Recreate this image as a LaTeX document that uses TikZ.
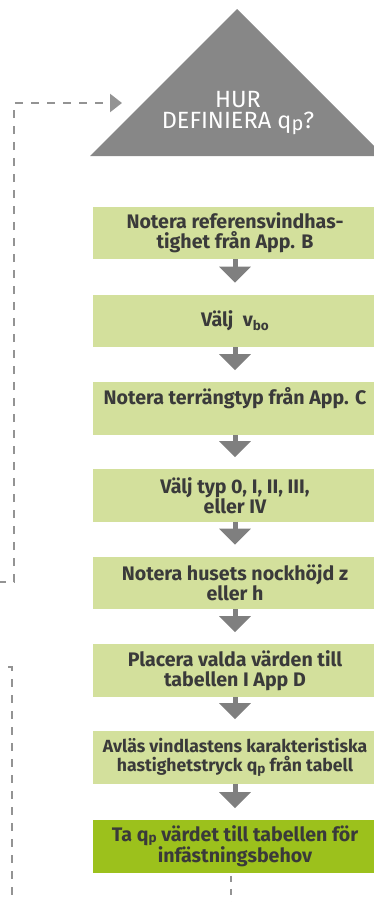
\documentclass[tikz,border=0pt]{standalone}
\usepackage{fontspec}
\setmainfont{Fira Sans}
\usetikzlibrary{arrows.meta}
\definecolor{lgreen}{HTML}{D3E09C}
\definecolor{dgreen}{HTML}{9CC11C}
\definecolor{trigray}{HTML}{878787}
\definecolor{arrgray}{HTML}{7F7F7F}
\definecolor{dashgray}{HTML}{939393}
\definecolor{txt}{HTML}{3A3A3A}
\newcommand{\subx}[2][-3.5pt]{\raisebox{#1}{\fontsize{13.5}{13.5}\selectfont #2}}
\begin{document}
\begin{tikzpicture}[x=1pt,y=-1pt,
 box/.style={fill=lgreen, minimum width=284pt, minimum height=52.5pt, inner sep=0pt, align=center, text=txt, font=\bfseries\fontsize{19.6}{19.6}\selectfont},
 smallbox/.style={box, font=\bfseries\fontsize{17.6}{18.6}\selectfont},
 finalbox/.style={box, fill=dgreen},
 flow/.style={draw=arrgray, line width=5pt, shorten >=12pt, -{Triangle[length=16pt,width=31pt]}},
 loop/.style={draw=dashgray, line width=2.5pt, dash pattern=on 8pt off 8pt}
]
\useasboundingbox (0,0) rectangle (374,902);
\clip (0,0) rectangle (374,902);
% decision triangle
\fill[trigray] (237,9) -- (384,156) -- (90,156) -- cycle;
\node[text=white, align=center, inner sep=0pt, font=\fontsize{23.5}{21.5}\selectfont] (q) at (238,113)
  {HUR\\DEFINIERA q\raisebox{-1.5pt}{\fontsize{20}{20}\selectfont p}?};
% boxes
\node[box] (b1) at (235,233) {Notera referensvindhas-\\tighet från App. B};
\node[box] (b2) at (235,321) {Välj\ \ v\subx{bo}};
\node[box] (b3) at (235,408.5) {Notera terrängtyp från App. C\\\strut};
\node[box] (b4) at (235,495.5) {Välj typ 0, I, II, III,\\eller IV};
\node[box] (b5) at (235,583) {Notera husets nockhöjd z\\eller h};
\node[box] (b6) at (235,670.5) {Placera valda värden till\\tabellen I App D};
\node[smallbox] (b7) at (235,757.5) {Avläs vindlastens karakteristiska\\hastighetstryck q\subx[-2.5pt]{p} från tabell};
\node[finalbox] (b8) at (235,846.5) {Ta q\subx[-1pt]{p} värdet till tabellen för\\infästningsbehov};
% flow arrows
\foreach \a/\b in {b1/b2,b2/b3,b3/b4,b4/b5,b5/b6,b6/b7,b7/b8}
  \draw[flow] (\a.south) -- (\b.north);
% dashed loop lines
\coordinate (la0) at (-2,582);
\coordinate (la1) at (14,582);
\coordinate (la2) at (14,103);
\coordinate (latip) at (122,103);
\draw[loop, -{Triangle[length=12pt,width=18pt]}] (la0) -- (la1) -- (la2) -- (latip);
\coordinate (lb0) at (8,667);
\coordinate (lb1) at (12,667);
\coordinate (lb2) at (12,910);
\draw[loop] (lb0) -- (lb1) -- (lb2);
\coordinate (lc1) at (231,910);
\draw[loop, dash pattern=on 6pt off 7pt, dash phase=-3pt] ([xshift=-4pt]b8.south) -- (lc1);
\end{tikzpicture}
\end{document}
